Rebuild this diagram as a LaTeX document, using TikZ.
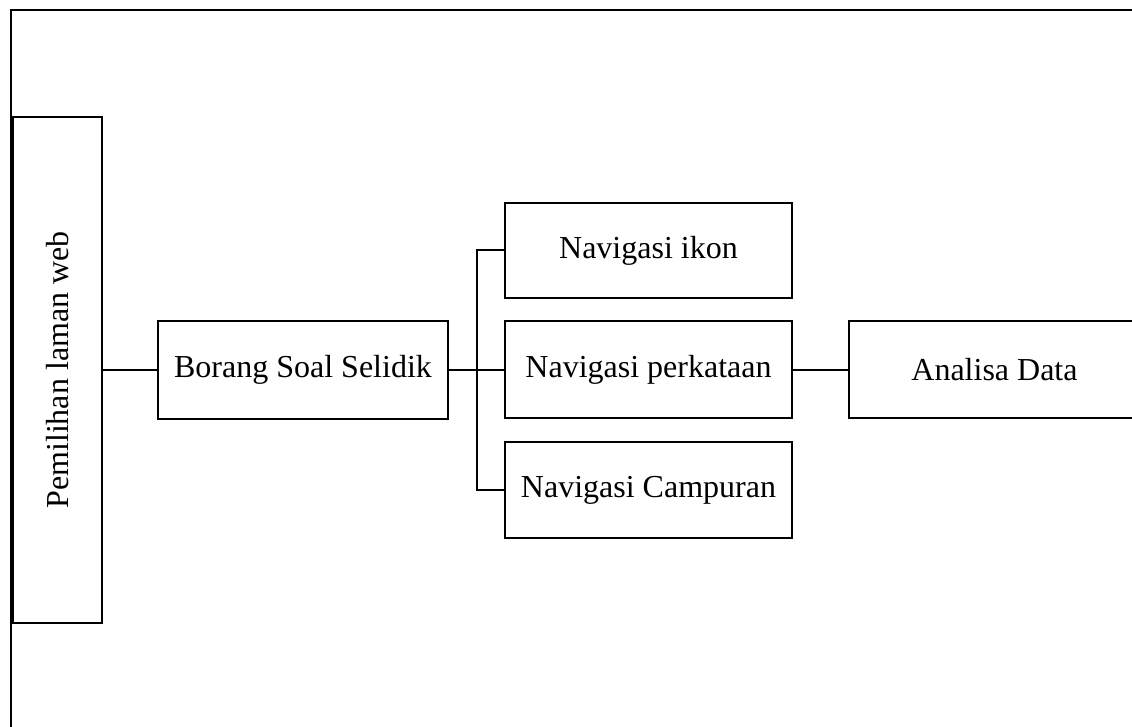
\documentclass[tikz,border=0pt]{standalone}
\usepackage{fontspec}
\setmainfont{Liberation Serif}
\usepackage{tikz}

\begin{document}
\begin{tikzpicture}[x=0.5pt,y=-0.5pt]
\tikzset{box/.style = {shape=rectangle,draw,line width=1pt,inner sep=0pt,font=\fontsize{16}{19}\selectfont}}
\tikzset{link/.style = {line width=1pt}}
\useasboundingbox (0,0) rectangle (1132,727);
\clip (0,0) rectangle (1132,727);
% frame
\draw[line width=1pt] (1140,10) -- (11,10) -- (11,740);
% boxes
\node[box,minimum width=44.5pt,minimum height=253pt] (web) at (57.5,370) {\rotatebox{90}{Pemilihan laman web}};
\node[box,minimum width=145pt,minimum height=49pt] (borang) at (303,370) {Borang Soal Selidik};
\node[box,minimum width=143.5pt,minimum height=47.5pt] (ikon) at (648.5,250.5) {Navigasi ikon};
\node[box,minimum width=143.5pt,minimum height=48.5pt] (kata) at (648.5,370) {Navigasi perkataan};
\node[box,minimum width=143.5pt,minimum height=48pt] (campur) at (648.5,490) {Navigasi Campuran};
\node[box,minimum width=145.5pt,minimum height=48.5pt] (analisa) at (994.5,370) {Analisa Data};
\coordinate (split) at (477,370);
% links
\draw[link] (web) -- (borang);
\draw[link] (borang) -- (kata);
\draw[link] (ikon.west) -| (split) |- (campur.west);
\draw[link] (kata) -- (analisa);
\end{tikzpicture}
\end{document}
